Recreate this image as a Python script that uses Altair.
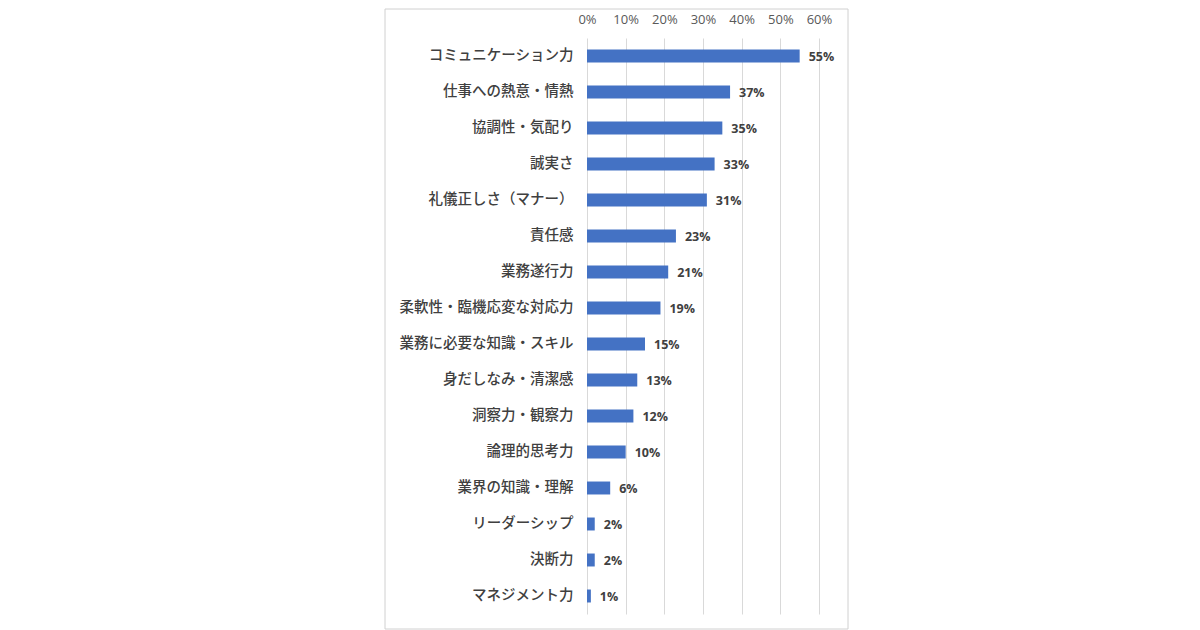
import altair as alt
import pandas as pd

categories = [
    "コミュニケーション力", "仕事への熱意・情熱", "協調性・気配り", "誠実さ",
    "礼儀正しさ（マナー）", "責任感", "業務遂行力", "柔軟性・臨機応変な対応力",
    "業務に必要な知識・スキル", "身だしなみ・清潔感", "洞察力・観察力", "論理的思考力",
    "業界の知識・理解", "リーダーシップ", "決断力", "マネジメント力",
]
values = [55, 37, 35, 33, 31, 23, 21, 19, 15, 13, 12, 10, 6, 2, 2, 1]
tick_values = [0, 10, 20, 30, 40, 50, 60]

df = pd.DataFrame({"item": categories, "value": values})
df["label"] = df["value"].astype(str) + "%"

base = alt.Chart(df).encode(
    x=alt.X(
        "value:Q", scale=alt.Scale(domain=[0, 60], nice=False),
        axis=alt.Axis(
            orient="top", title=None, values=tick_values, ticks=False, domain=False,
            labelExpr="datum.value + '%'", labelFont="Open Sans", labelFontSize=13,
            labelColor="#595959", labelPadding=12, grid=True, gridColor="#d9d9d9",
            labelOverlap=False, labelFlush=False,
        ),
    ),
    y=alt.Y(
        "item:N",
        sort=categories,
        scale=alt.Scale(paddingInner=0.64, paddingOuter=0.32),
        axis=alt.Axis(
            title=None, ticks=False, domain=False, labelPadding=14,
            labelFont="Noto Sans CJK JP", labelFontSize=14.5, labelColor="#404040",
            labelFontWeight=500, labelLimit=300,
        ),
    ),
)

bars = base.mark_bar(color="#4472C4")

labels = base.mark_text(
    align="left", baseline="middle", dx=9, dy=1, font="Open Sans",
    fontSize=12.5, fontWeight="bold", color="#404040",
).encode(text="label:N")

frame = alt.Chart(pd.DataFrame({"a": [0]})).mark_rect(
    filled=False, stroke="#d0d0d0", strokeWidth=1,
).encode(
    x=alt.value(-202), x2=alt.value(261), y=alt.value(-29), y2=alt.value(591),
)

chart = alt.layer(frame, bars, labels).properties(
    width=232, height=576, background="white",
    padding={"left": 376, "top": 0, "right": 0, "bottom": 0},
).configure_view(stroke=None)

chart.save("out.html", embed_options={"renderer": "svg", "actions": False})
